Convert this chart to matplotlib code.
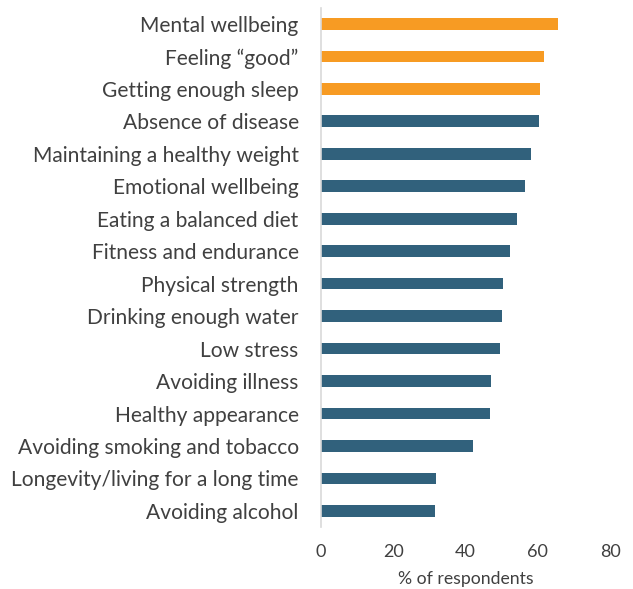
import matplotlib
matplotlib.use("Agg")
import matplotlib.pyplot as plt

categories = [
    "Mental wellbeing", "Feeling \u201cgood\u201d", "Getting enough sleep",
    "Absence of disease", "Maintaining a healthy weight", "Emotional wellbeing",
    "Eating a balanced diet", "Fitness and endurance", "Physical strength",
    "Drinking enough water", "Low stress", "Avoiding illness",
    "Healthy appearance", "Avoiding smoking and tobacco",
    "Longevity/living for a long time", "Avoiding alcohol",
]
values = [65.5, 61.8, 60.7, 60.4, 58.1, 56.5, 54.1, 52.4, 50.3,
          50.1, 49.5, 47.0, 46.8, 42.1, 31.7, 31.5]
highlight = [True, True, True] + [False] * 13
xticks = [0, 20, 40, 60, 80]

ORANGE = "#F79B23"
BLUE = "#31617C"

plt.rcParams['font.family'] = ['Lato', 'DejaVu Sans']

fig = plt.figure(figsize=(6.33, 5.89), dpi=100)
ax = fig.add_axes([0.507, 0.105, 0.457, 0.882])

ypos = list(range(len(categories)))
colors = [ORANGE if h else BLUE for h in highlight]
ax.barh(ypos, values, height=0.36, color=colors)
ax.set_ylim(len(categories) - 0.5, -0.5)
ax.set_xlim(0, 80)
ax.set_yticks(ypos)
ax.set_yticklabels(categories, fontsize=15.1, color="#404040")
ax.tick_params(axis='y', length=0, pad=16)
ax.set_xticks(xticks)
ax.set_xticklabels([str(t) for t in xticks], fontsize=13, color="#404040")
ax.tick_params(axis='x', length=0, pad=12)
ax.set_xlabel("% of respondents", fontsize=12.7, color="#404040", labelpad=8)
for s in ["top", "right", "bottom"]:
    ax.spines[s].set_visible(False)
ax.spines["left"].set_color("#d9d9d9")
ax.spines["left"].set_linewidth(1.2)

fig.savefig("out.png", dpi=100)
